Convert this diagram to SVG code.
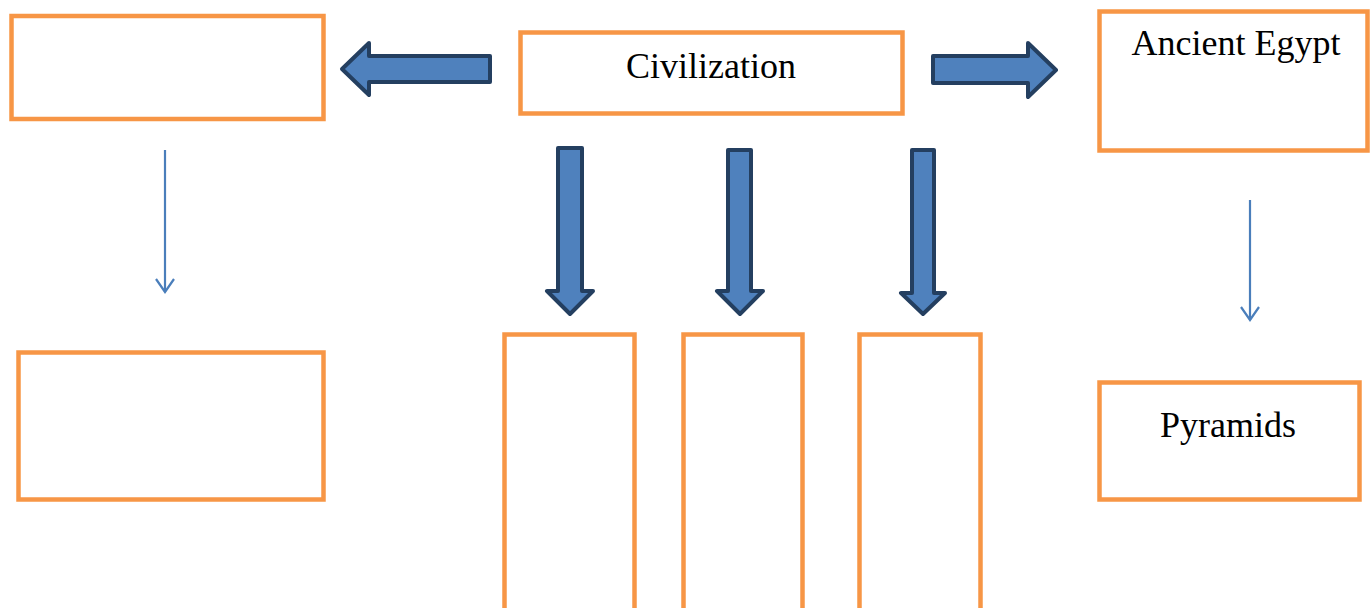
<svg xmlns="http://www.w3.org/2000/svg" width="1371" height="608" viewBox="0 0 1371 608">
<defs>
<style>
.box{fill:#fff;stroke:#F79646;stroke-width:4.5}
.blk{fill:#4F81BD;stroke:#243F60;stroke-width:4;stroke-linejoin:round}
.thin{stroke:#4A7EBB;stroke-width:2.2;fill:none}
.lbl{font-family:"Liberation Serif","Times New Roman",serif;font-size:36px;fill:#000;text-anchor:middle}
</style>
<marker id="open" viewBox="0 0 20 20" refX="18" refY="10" markerWidth="20" markerHeight="20" markerUnits="userSpaceOnUse" orient="auto">
<path d="M5,1 L18,10 L5,19" fill="none" stroke="#4A7EBB" stroke-width="2.2"/>
</marker>
</defs>
<rect width="1371" height="608" fill="#fff"/>
<g id="connectors">
<path class="blk" d="M490,56 L369,56 L369,43 L342,69 L369,95 L369,82 L490,82 Z"/>
<path class="blk" d="M933,56 L1028,56 L1028,43 L1056,70 L1028,97 L1028,83 L933,83 Z"/>
<path class="blk" d="M558,148 L582,148 L582,291 L593,291 L570,314 L547,291 L558,291 Z"/>
<path class="blk" d="M728,150 L751,150 L751,291 L763,291 L740,314 L717,291 L728,291 Z"/>
<path class="blk" d="M912,150 L934,150 L934,293 L945,293 L923,314 L901,293 L912,293 Z"/>
<line class="thin" x1="165" y1="150" x2="165" y2="292" marker-end="url(#open)"/>
<line class="thin" x1="1250" y1="200" x2="1250" y2="320" marker-end="url(#open)"/>
</g>
<g id="node-topleft"><rect class="box" x="11.5" y="16" width="312" height="103"/></g>
<g id="node-civilization"><rect class="box" x="520.5" y="32.5" width="382" height="81"/><text class="lbl" x="711" y="78">Civilization</text></g>
<g id="node-egypt"><rect class="box" x="1099.5" y="11.5" width="268" height="139"/><text class="lbl" x="1236" y="55">Ancient Egypt</text></g>
<g id="node-bottomleft"><rect class="box" x="18.5" y="352.5" width="305" height="147"/></g>
<g id="node-pyramids"><rect class="box" x="1099.5" y="382.5" width="260" height="117"/><text class="lbl" x="1228" y="437">Pyramids</text></g>
<g id="node-col1"><rect class="box" x="504.5" y="334.5" width="130" height="290"/></g>
<g id="node-col2"><rect class="box" x="683.5" y="334.5" width="119" height="290"/></g>
<g id="node-col3"><rect class="box" x="859.5" y="334.5" width="121" height="290"/></g>
</svg>
